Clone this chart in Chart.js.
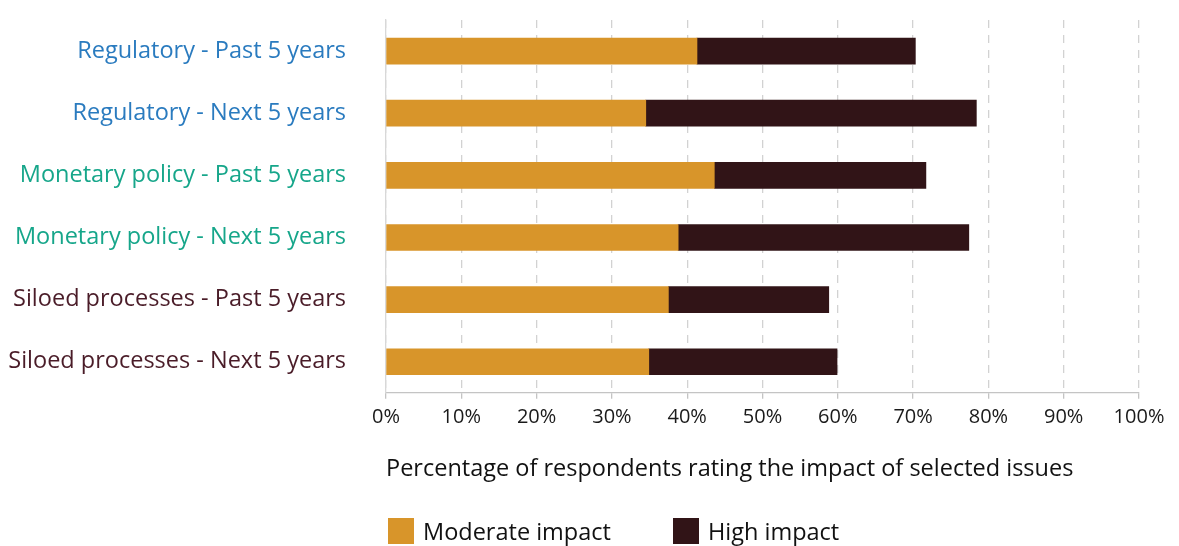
<!DOCTYPE html>
<html>
<head>
<meta charset="utf-8">
<script src="https://cdn.jsdelivr.net/npm/chart.js@4.4.1/dist/chart.umd.min.js"></script>
<style>
  html, body { margin: 0; padding: 0; background: #fff; }
  #wrap { position: relative; width: 1179px; height: 546px; }
  #legend {
    position: absolute; left: 388px; top: 518px;
    display: flex; align-items: center; height: 26px;
    font-family: "Open Sans", sans-serif; font-size: 23.5px; color: #111;
  }
  .item { display: flex; align-items: center; }
  .box { width: 26px; height: 26px; margin-right: 9px; }
</style>
</head>
<body>
<div id="wrap">
  <canvas id="barChart" width="1179" height="546"></canvas>
  <div id="legend"></div>
</div>
<script>
// Data
const categories = [
  'Regulatory - Past 5 years',
  'Regulatory - Next 5 years',
  'Monetary policy - Past 5 years',
  'Monetary policy - Next 5 years',
  'Siloed processes - Past 5 years',
  'Siloed processes - Next 5 years'
];
const moderateImpact = [41.3, 34.5, 43.6, 38.8, 37.5, 34.9];
const highImpact = [29.0, 43.9, 28.1, 38.6, 21.3, 25.0];
const xTicks = [0, 10, 20, 30, 40, 50, 60, 70, 80, 90, 100];

const labelColors = ['#2A7BBF', '#2A7BBF', '#16A68A', '#16A68A', '#4A1C28', '#4A1C28'];
const FONT = '"Open Sans", sans-serif';

const ctx = document.getElementById('barChart').getContext('2d');

const barChart = new Chart(ctx, {
  type: 'bar',
  data: {
    labels: categories,
    datasets: [
      {
        label: 'Moderate impact',
        data: moderateImpact,
        backgroundColor: '#D8952A',
        barThickness: 26
      },
      {
        label: 'High impact',
        data: highImpact,
        backgroundColor: '#311417',
        barThickness: 26
      }
    ]
  },
  options: {
    indexAxis: 'y',
    responsive: false,
    animation: false,
    layout: {
      padding: {top: 20, right: 40, bottom: 63, left: 0}
    },
    plugins: {
      legend: {display: false},
      tooltip: {enabled: false}
    },
    scales: {
      x: {
        stacked: true,
        min: 0,
        max: 100,
        afterBuildTicks: (scale) => {
          scale.ticks = xTicks.map(v => ({value: v}));
        },
        ticks: {
          callback: (v) => v + '%',
          font: {family: FONT, size: 20},
          color: '#1a1a1a',
          padding: 6,
          maxRotation: 0
        },
        grid: {
          color: '#d2d2d2',
          lineWidth: 1.3,
          tickBorderDash: [],
          tickLength: 6,
          tickColor: '#c4c4c4'
        },
        border: {display: true, color: '#c4c4c4', width: 1.3, dash: [8, 7]},
        title: {
          display: true,
          text: 'Percentage of respondents rating the impact of selected issues',
          align: 'start',
          font: {family: FONT, size: 23.5},
          color: '#111',
          padding: {top: 20, bottom: 0}
        }
      },
      y: {
        stacked: true,
        afterFit: (scale) => { scale.width = 386; },
        ticks: {
          font: {family: FONT, size: 23.5},
          color: (c) => labelColors[c.index],
          padding: 0
        },
        // transparent tick marks keep the labels 40px away from the axis
        grid: {
          display: true,
          drawOnChartArea: false,
          drawTicks: true,
          tickLength: 40,
          tickColor: 'rgba(0,0,0,0)'
        },
        border: {display: true, color: '#d8d8d8', width: 1.3}
      }
    }
  }
});

// Legend drawn as html, left-aligned with the plot area
const legendEl = document.getElementById('legend');
barChart.data.datasets.forEach((ds, i) => {
  const item = document.createElement('div');
  item.className = 'item';
  if (i > 0) item.style.marginLeft = '62px';
  item.innerHTML = '<div class="box" style="background:' + ds.backgroundColor +
      '"></div><span>' + ds.label + '</span>';
  legendEl.appendChild(item);
});
</script>
</body>
</html>
